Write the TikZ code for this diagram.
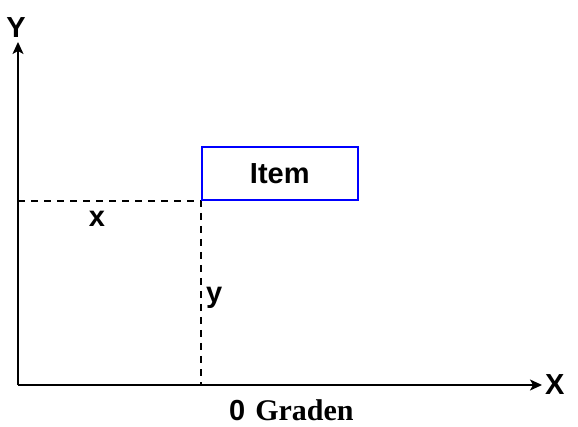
\documentclass[tikz,border=0pt]{standalone}
\usepackage{fontspec}
\setmainfont{Liberation Serif}
\setsansfont{Liberation Sans}
\usetikzlibrary{arrows.meta,positioning}
\definecolor{boxblue}{RGB}{0,0,255}

\begin{document}
\begin{tikzpicture}[x=1pt, y=-1pt,
    axis/.style={line width=1.5pt, -{Stealth[length=12pt, width=11pt, inset=3pt]}},
    guide/.style={line width=1.3pt, dash pattern=on 7pt off 6pt},
    lbl/.style={font=\sffamily\bfseries\fontsize{29}{29}\selectfont, inner sep=0pt}]
    \useasboundingbox (0,0) rectangle (578,427);
    \coordinate (origin) at (18,385);
    \coordinate (ytop) at (18,42);
    \coordinate (xend) at (542,385);
    \coordinate (corner) at (201,201);
    \coordinate (cornerx) at (18,201);
    \coordinate (cornery) at (201,385);
    \draw[axis] (origin) -- (ytop);
    \draw[axis] (origin) -- (xend);
    \draw[guide] (cornerx) -- (corner) -- (cornery);
    \node[draw=boxblue, line width=1.5pt, minimum width=156pt, minimum height=53pt, anchor=south west, lbl] (item) at (corner) {Item};
    \node[lbl] (ylabel) at (16,28) {Y};
    \node[lbl, anchor=west] (xlabel) at (545,385) {X};
    \node[lbl] (xcoord) at (97,219) {x};
    \node[lbl, anchor=west] (ycoord) at (206,298) {y};
    \node[inner sep=0pt, anchor=west] (graden) at (229,410) {\sffamily\bfseries\fontsize{29}{29}\selectfont 0\hspace{10pt}\rmfamily\fontsize{30}{30}\selectfont Graden};
\end{tikzpicture}
\end{document}
